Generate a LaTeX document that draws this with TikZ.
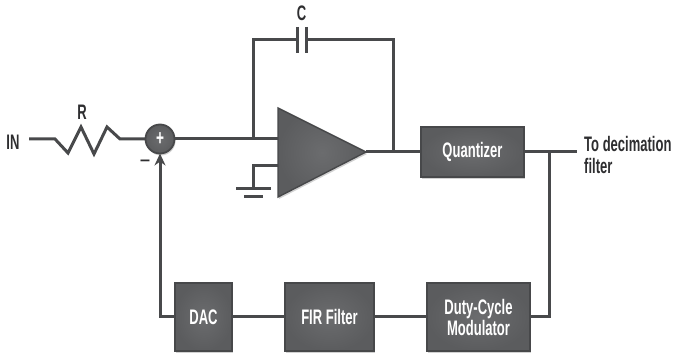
\documentclass[tikz,border=0pt]{standalone}
\usepackage{fontspec}
\setmainfont[FakeStretch=0.62,BoldFont={Liberation Sans Bold},BoldFeatures={FakeStretch=0.62}]{Liberation Sans}
\usetikzlibrary{calc,arrows.meta,shadows}
\definecolor{wire}{HTML}{48494B}
\definecolor{boxin}{HTML}{6B6C6E}
\definecolor{boxout}{HTML}{5B5C5E}
\definecolor{boxedge}{HTML}{47484A}
\definecolor{inktext}{HTML}{2E2E30}
\tikzset{
  x=1pt,y=-1pt,
  softshadow/.style={general shadow={shadow xshift=1pt,shadow yshift=-2pt,fill=black,opacity=.18}},
  boxshade/.style={inner color=boxin,outer color=boxout},
  blockbox/.style={draw=boxedge,line width=1.8pt,outer sep=0pt,softshadow,boxshade,text=white,font=\fontsize{21}{21}\selectfont\bfseries,align=center,inner sep=0pt,anchor=north west},
  conn/.style={draw=wire,line width=3pt,line join=miter},
  label/.style={text=inktext,font=\fontsize{21}{21}\selectfont\bfseries,inner sep=0pt},
}
\begin{document}
\begin{tikzpicture}
\useasboundingbox (0,0) rectangle (673,358);
% anchors
\coordinate (inend) at (29,139);
\coordinate (r1) at (55,139);
\coordinate (r2) at (68,153);
\coordinate (r3) at (81,127);
\coordinate (r4) at (94,154);
\coordinate (r5) at (107,127);
\coordinate (r6) at (120,139);
\coordinate (ampT) at (278,108);
\coordinate (ampB) at (278,197);
\coordinate (ampO) at (366,152);
\coordinate (ampP) at (278,139);
\coordinate (ampN) at (278,166);
\coordinate (fbL) at (253,139);
\coordinate (fbLT) at (253,40);
\coordinate (fbRT) at (393,40);
\coordinate (fbR) at (393,152);
\coordinate (capA) at (297,40);
\coordinate (capB) at (306,40);
\coordinate (gndT) at (253,166);
\coordinate (gndB) at (253,189);
\coordinate (out) at (577,152);
\coordinate (tap) at (549,152);
\coordinate (tapD) at (549,317);
\coordinate (fbk) at (160,317);
% connectors under blocks
\path[conn] (fbL) -- (fbLT) -- (capA);
\path[conn] (capB) -- (fbRT) -- (fbR);
\path[conn] (ampN) -- (gndT) -- (gndB);
\path[conn] (inend) -- (r1) -- (r2) -- (r3) -- (r4) -- (r5) -- (r6) -- (160,139);
% capacitor plates
\path[conn] ($(capA)+(0,-13)$) -- ($(capA)+(0,13)$);
\path[conn] ($(capB)+(0,-13)$) -- ($(capB)+(0,13)$);
% ground plates
\path[conn] (236,189) -- (271,189);
\path[conn] (244,197) -- (263,197);
% blocks
\node[blockbox,minimum width=103pt,minimum height=50pt] (quant) at (421,127) {Quantizer};
\node[blockbox,minimum width=57pt,minimum height=68pt] (dac) at (175,283) {DAC};
\node[blockbox,minimum width=89pt,minimum height=68pt] (fir) at (285,283) {FIR Filter};
\node[blockbox,minimum width=103pt,minimum height=68pt] (duty) at (427,283) {Duty-Cycle\\[0pt]Modulator};
\node[circle,draw=boxedge,line width=1.8pt,outer sep=0pt,softshadow,boxshade,minimum size=29pt,inner sep=0pt,text=white,font=\fontsize{22}{22}\selectfont\bfseries] (sum) at (160,139) {+};
% amplifier
\path[draw=boxedge,line width=1.4pt,boxshade,line join=miter,softshadow] (ampT) -- (ampO) -- (ampB) -- cycle;
% wires to blocks
\path[conn] (sum.east) -- (ampP);
\path[conn] (ampO) -- (quant.west);
\path[conn] (quant.east) -- (out);
\path[conn] (tap) -- (tapD) -- (duty.east);
\path[conn] (duty.west) -- (fir.east);
\path[conn] (fir.west) -- (dac.east);
\path[conn] (dac.west) -- (fbk) -- (160,170);
\draw[draw=wire,line width=3pt,-{Stealth[length=12pt,width=11pt]}] (fbk) -- (sum.south);
% labels
\node[label] (lin) at (13,142) {IN};
\node[label] (lr) at (82,112) {R};
\node[label] (lc) at (301.5,13) {C};
\node[label,font=\fontsize{26}{26}\selectfont] (lminus) at (145,164) {–};
\node[label,anchor=west,align=left] (lto) at (584,155) {To decimation\\[1pt]filter};
\end{tikzpicture}
\end{document}
